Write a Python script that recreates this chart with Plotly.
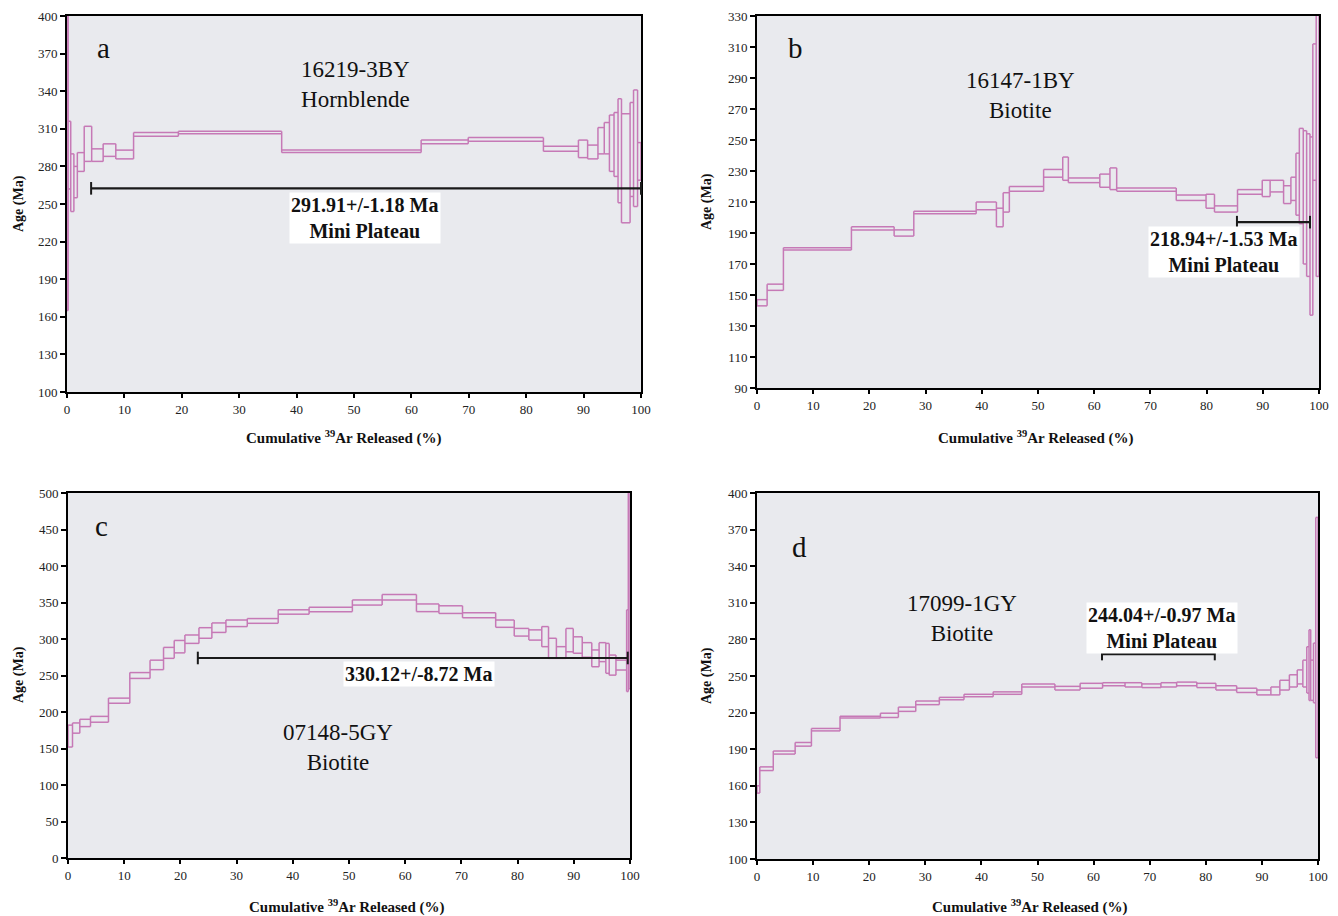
import plotly.graph_objects as go

# ---------------- DATA ----------------
# Panel a: 16219-3BY Hornblende
a_bounds = [0.0, 0.2, 0.65, 1.2, 1.8, 3.0, 4.3, 6.3, 8.5, 11.6, 19.4, 37.4, 61.7, 69.9, 83.0,
            89.1, 90.7, 92.5, 93.6, 94.5, 95.3, 96.0, 96.6, 98.1, 98.7, 99.4, 100.0]
a_low = [165, 262, 244, 255, 276, 284, 284, 288, 286, 304, 306, 291, 298, 300, 292,
         287, 286, 290, 290, 276, 272, 251, 235, 256, 248, 269]
a_high = [410, 316, 290, 280, 291, 312, 294, 298, 293, 307, 308, 293, 301, 303, 296,
          301, 297, 311, 315, 321, 323, 334, 322, 331, 341, 299]

# Panel b: 16147-1BY Biotite
b_bounds = [0.0, 1.8, 4.7, 16.8, 24.4, 27.9, 39.0, 42.6, 43.8, 44.9, 51.0, 54.4, 55.4, 61.0,
            62.8, 64.0, 74.6, 79.9, 81.4, 85.5, 89.9, 91.3, 93.7, 95.0, 95.9, 96.5, 97.2,
            97.8, 98.4, 98.9, 99.5, 100.0]
b_low = [143, 153, 179, 192, 188, 202.5, 205, 194, 203.5, 217, 226, 224, 222.5, 219.5,
         218, 217, 211, 206, 203.5, 215, 213.5, 216.5, 209, 211, 201.5, 196, 170, 162,
         137, 224, 162]
b_high = [147, 157, 180.5, 194, 192, 204, 210, 206, 216, 220, 231, 239, 225.5, 228,
          232, 219, 214.5, 215, 207.5, 218, 224, 224, 220.5, 226, 241.5, 257.5, 256, 254,
          252, 312, 340]

# Panel c: 07148-5GY Biotite
c_bounds = [0.0, 0.8, 2.1, 4.0, 7.2, 11.0, 14.6, 17.0, 18.9, 20.8, 23.3, 25.6, 28.1, 31.9,
            37.4, 42.9, 50.6, 55.9, 62.0, 66.0, 70.2, 76.1, 79.4, 82.0, 84.3, 85.5, 86.9,
            88.6, 89.9, 91.5, 93.2, 94.5, 95.7, 96.3, 97.5, 99.4, 99.7, 100.0]
c_low = [152, 171, 180, 186, 212, 246, 258, 273.5, 281, 294, 301, 309, 317, 321.5,
         334, 337.5, 346.5, 353.5, 337.5, 335, 329, 316, 304, 298.5, 289.5, 273.5, 273.5,
         282.5, 280.5, 275, 262, 269, 253, 250.5, 257.5, 228, 232]
c_high = [182, 185, 190, 194, 219, 254, 271, 288.5, 298, 305.5, 315.5, 322, 326, 328,
          340, 343.5, 353.5, 361, 348, 345.5, 336, 326, 314.5, 312.5, 317, 301, 289.5,
          314.5, 303, 295, 285, 295, 294, 278, 271, 340, 510]

# Panel d: 17099-1GY Biotite
d_bounds = [0.0, 0.5, 2.9, 6.8, 9.7, 14.8, 22.0, 25.2, 28.3, 32.5, 36.9, 42.1, 47.2, 53.1,
            57.6, 61.6, 65.6, 68.6, 72.0, 74.8, 78.4, 81.8, 85.5, 89.1, 91.6, 93.2, 94.9,
            96.3, 97.3, 98.0, 98.4, 98.7, 99.2, 99.6, 100.0]
d_low = [154, 172.5, 186, 192.5, 205, 215.5, 216, 221, 226.5, 230.5, 233, 235, 241,
         238.5, 240, 242, 241, 240.5, 241, 242, 240.5, 238.5, 236.5, 234.5, 234.5, 238.5,
         241, 243.5, 241, 236, 230, 230, 228, 183]
d_high = [160, 175.5, 188.5, 195.5, 207, 217, 219.5, 224.5, 229.5, 232.5, 235, 237, 243.5,
          241.5, 244, 244.5, 244.5, 243.5, 244.5, 245, 244, 242, 240, 238.5, 241, 246.5,
          251, 255, 263, 274, 288, 263, 277, 380]

# Plateau: [start %, end %, level Ma]
a_plateau = [4.2, 100.0, 262.5]
b_plateau = [85.4, 98.4, 197.0]
c_plateau = [23.1, 99.6, 274.0]
d_plateau = [61.5, 81.6, 268.0]

a_plateau_text = "291.91+/-1.18 Ma<br>Mini Plateau"
b_plateau_text = "218.94+/-1.53 Ma<br>Mini Plateau"
c_plateau_text = "330.12+/-8.72 Ma"
d_plateau_text = "244.04+/-0.97 Ma<br>Mini Plateau"

a_title = "16219-3BY<br>Hornblende"
b_title = "16147-1BY<br>Biotite"
c_title = "07148-5GY<br>Biotite"
d_title = "17099-1GY<br>Biotite"

a_yticks = list(range(100, 401, 30))
b_yticks = list(range(90, 331, 20))
c_yticks = list(range(0, 501, 50))
d_yticks = list(range(100, 401, 30))
x_ticks = list(range(0, 101, 10))

# ---------------- LAYOUT HELPERS ----------------
W, H = 1338, 916
FONT = "Liberation Serif"
STEP_COLOR = "#c679b6"
BG = "#e9eaee"


def px_x(p):
    return p / W


def px_y(p):
    return 1 - p / H


panels = [
    dict(bounds=a_bounds, low=a_low, high=a_high, plateau=a_plateau, ptext=a_plateau_text,
         title=a_title, letter="a", yticks=a_yticks, yrange=[100, 400],
         dom_x=[67, 641], dom_y=[16, 392],
         ptext_pos=(51.9, 238.8), title_pos=(50.2, 345.7), letter_pos=(6.3, 374.5),
         xtitle_px=(344, 437), ytitle_px=(19, 204)),
    dict(bounds=b_bounds, low=b_low, high=b_high, plateau=b_plateau, ptext=b_plateau_text,
         title=b_title, letter="b", yticks=b_yticks, yrange=[90, 330],
         dom_x=[757, 1319], dom_y=[16, 388],
         ptext_pos=(83.1, 177.7), title_pos=(46.8, 278.4), letter_pos=(6.9, 309.4),
         xtitle_px=(1036, 437), ytitle_px=(707, 202)),
    dict(bounds=c_bounds, low=c_low, high=c_high, plateau=c_plateau, ptext=c_plateau_text,
         title=c_title, letter="c", yticks=c_yticks, yrange=[0, 500],
         dom_x=[68, 630], dom_y=[493, 858],
         ptext_pos=(62.5, 252), title_pos=(48.0, 152), letter_pos=(6.0, 454.8),
         xtitle_px=(347, 906), ytitle_px=(19, 675)),
    dict(bounds=d_bounds, low=d_low, high=d_high, plateau=d_plateau, ptext=d_plateau_text,
         title=d_title, letter="d", yticks=d_yticks, yrange=[100, 400],
         dom_x=[757, 1318], dom_y=[493, 859],
         ptext_pos=(72.2, 289.3), title_pos=(36.5, 297.5), letter_pos=(7.5, 355.7),
         xtitle_px=(1030, 906), ytitle_px=(707, 676)),
]

fig = go.Figure()
annotations = []
layout = {}

for i, p in enumerate(panels, start=1):
    xa = "x" if i == 1 else f"x{i}"
    ya = "y" if i == 1 else f"y{i}"
    xs, ys = [], []
    b = p["bounds"]
    lo_l, hi_l = p["low"], p["high"]
    n = len(lo_l)
    # horizontal edges of every step (upper and lower error envelopes)
    for k in range(n):
        xs += [b[k], b[k + 1], None, b[k], b[k + 1], None]
        ys += [lo_l[k], lo_l[k], None, hi_l[k], hi_l[k], None]
    # vertical connectors at each step boundary
    for k in range(n + 1):
        lows = [lo_l[j] for j in (k - 1, k) if 0 <= j < n]
        highs = [hi_l[j] for j in (k - 1, k) if 0 <= j < n]
        xs += [b[k], b[k], None]
        ys += [min(lows), max(highs), None]
    fig.add_trace(go.Scatter(x=xs, y=ys, mode="lines", xaxis=xa, yaxis=ya,
                             line=dict(color=STEP_COLOR, width=1.5),
                             hoverinfo="skip", showlegend=False))
    s, e, lv = p["plateau"]
    fig.add_trace(go.Scatter(x=[s, e], y=[lv, lv], mode="lines+markers", xaxis=xa, yaxis=ya,
                             line=dict(color="#1a1a1a", width=2.2),
                             marker=dict(symbol="line-ns", size=9,
                                         line=dict(color="#1a1a1a", width=2)),
                             cliponaxis=False, hoverinfo="skip", showlegend=False))

    axis_common = dict(showline=True, linecolor="black", linewidth=2, mirror=True,
                       ticks="outside", tickcolor="black", tickwidth=1.5,
                       showgrid=False, zeroline=False, layer="below traces",
                       automargin=False,
                       tickfont=dict(family=FONT, size=13, color="#222"))
    layout["xaxis" if i == 1 else f"xaxis{i}"] = dict(
        domain=[px_x(p["dom_x"][0]), px_x(p["dom_x"][1])], range=[0, 100],
        tickvals=x_ticks, anchor=ya, ticklen=4, **axis_common)
    layout["yaxis" if i == 1 else f"yaxis{i}"] = dict(
        domain=[px_y(p["dom_y"][1]), px_y(p["dom_y"][0])], range=p["yrange"],
        tickvals=p["yticks"], anchor=xa, ticklen=5, **axis_common)

    # plateau label
    annotations.append(dict(x=p["ptext_pos"][0], y=p["ptext_pos"][1], xref=xa, yref=ya,
                            xanchor="center", yanchor="middle",
                            text="<b>" + p["ptext"] + "</b>", showarrow=False,
                            font=dict(family=FONT, size=20, color="#111"),
                            bgcolor="white", borderpad=1, align="center"))
    # sample title
    annotations.append(dict(x=p["title_pos"][0], y=p["title_pos"][1], xref=xa, yref=ya,
                            xanchor="center", yanchor="middle",
                            text=p["title"], showarrow=False,
                            font=dict(family=FONT, size=23, color="#111"), align="center"))
    # panel letter
    annotations.append(dict(x=p["letter_pos"][0], y=p["letter_pos"][1], xref=xa, yref=ya,
                            xanchor="center", yanchor="middle",
                            text=p["letter"], showarrow=False,
                            font=dict(family=FONT, size=29, color="#111")))
    # axis titles
    annotations.append(dict(x=px_x(p["xtitle_px"][0]), y=px_y(p["xtitle_px"][1]),
                            xref="paper", yref="paper", xanchor="center", yanchor="middle",
                            text="<b>Cumulative <sup>39</sup>Ar Released (%)</b>",
                            showarrow=False, font=dict(family=FONT, size=15, color="#111")))
    annotations.append(dict(x=px_x(p["ytitle_px"][0]), y=px_y(p["ytitle_px"][1]),
                            xref="paper", yref="paper", xanchor="center", yanchor="middle",
                            text="<b>Age (Ma)</b>",
                            textangle=-90, showarrow=False,
                            font=dict(family=FONT, size=14, color="#111")))

fig.update_layout(width=W, height=H,
                  margin=dict(l=0, r=0, t=0, b=0, autoexpand=False),
                  paper_bgcolor="white", plot_bgcolor=BG,
                  annotations=annotations, **layout)

fig.write_html("out.html")
